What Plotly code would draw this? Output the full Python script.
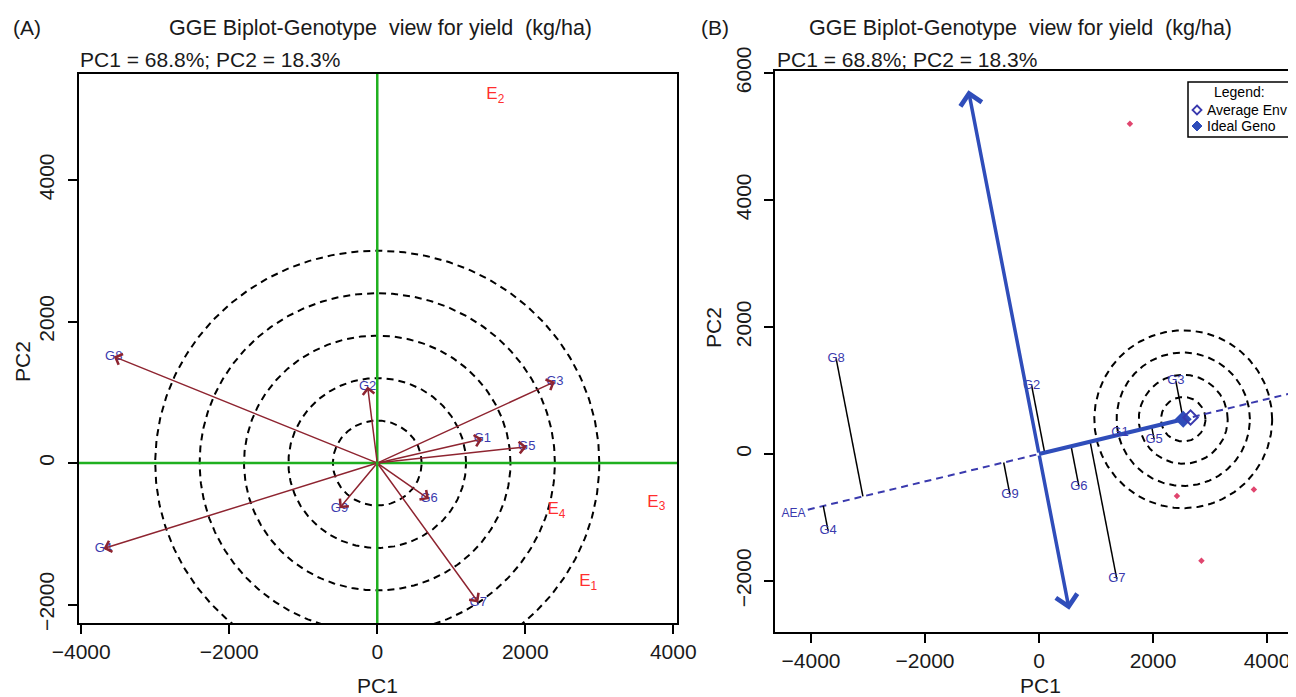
import numpy as np
import plotly.graph_objects as go

# ---------------- data ----------------
genotypes = ["G1", "G2", "G3", "G4", "G5", "G6", "G7", "G8", "G9"]
g_pc1 = [1420, -130, 2400, -3700, 2020, 700, 1365, -3560, -510]
g_pc2 = [340, 1080, 1150, -1210, 230, -510, -1970, 1505, -640]

environments = ["E1", "E2", "E3", "E4"]
e_pc1 = [2850, 1595, 3770, 2420]
e_pc2 = [-1680, 5200, -560, -660]

x_ticks = [-4000, -2000, 0, 2000, 4000]
y_ticks_a = [-2000, 0, 2000, 4000]
y_ticks_b = [-2000, 0, 2000, 4000, 6000]

atc_extent = [5860, -2510]   # ATC ordinate arrow lengths (up, down)
title_txt = "GGE Biplot-Genotype\u00a0 view for yield\u00a0 (kg/ha)"
pc_txt = "PC1 = 68.8%; PC2 = 18.3%"

# ---------------- style ----------------
W, H = 1296, 697
OFF = 8  # page body margin offset
FONT = "Liberation Sans, Arial, Helvetica, sans-serif"
GREEN = "#1FB01F"
MAROON = "#8E2430"
GBLUE = "#3A3AAE"
ABLUE = "#2F4DBA"
RED = "#FF2E2E"
PINK = "#E0456E"


def px(x):
    return (x - OFF) / W


def py(y):
    return 1 - (y - OFF) / H


xr_a = [-4030, 4050]
yr_a = [-2261, 5498]
xr_b = [-4632, 4509]
yr_b = [-2803, 6031]
dom_xa = [px(79), px(677)]
dom_ya = [py(623), py(74)]
dom_xb = [px(775), px(1296)]
dom_yb = [py(632), py(71)]

fig = go.Figure()

# ================= Panel A =================
theta = np.linspace(0, 2 * np.pi, 361)
ring_step_a = 600
for k in range(1, 6):
    r = ring_step_a * k
    fig.add_trace(go.Scatter(x=r * np.cos(theta), y=r * np.sin(theta), mode="lines",
                             line=dict(color="black", width=2, dash="7px,5px"),
                             hoverinfo="skip", showlegend=False, xaxis="x", yaxis="y"))
fig.add_trace(go.Scatter(x=xr_a, y=[0, 0], mode="lines", line=dict(color=GREEN, width=2.5),
                         hoverinfo="skip", showlegend=False, xaxis="x", yaxis="y"))
fig.add_trace(go.Scatter(x=[0, 0], y=yr_a, mode="lines", line=dict(color=GREEN, width=2.5),
                         hoverinfo="skip", showlegend=False, xaxis="x", yaxis="y"))

annotations = []
for gx, gy in zip(g_pc1, g_pc2):
    annotations.append(dict(x=gx, y=gy, ax=0, ay=0, xref="x", yref="y", axref="x", ayref="y",
                            text="", showarrow=True, arrowhead=4, arrowsize=1.5, arrowwidth=1.5,
                            arrowcolor=MAROON, standoff=0))

fig.add_trace(go.Scatter(x=g_pc1, y=g_pc2, mode="text", text=genotypes,
                         textfont=dict(family=FONT, size=13, color=GBLUE),
                         hoverinfo="skip", showlegend=False, xaxis="x", yaxis="y"))
fig.add_trace(go.Scatter(x=e_pc1, y=e_pc2, mode="text",
                         text=["E<sub>%s</sub>" % e[1:] for e in environments],
                         textfont=dict(family=FONT, size=17, color=RED),
                         hoverinfo="skip", showlegend=False, xaxis="x", yaxis="y"))

# ================= Panel B =================
g1 = np.array(g_pc1, float)
g2 = np.array(g_pc2, float)
avg = np.array([np.mean(e_pc1), np.mean(e_pc2)])
u = avg / np.linalg.norm(avg)
perp = np.array([-u[1], u[0]])
proj = g1 * u[0] + g2 * u[1]
ideal = proj.max() * u

px_x = (dom_xb[1] - dom_xb[0]) * W / (xr_b[1] - xr_b[0])
px_y = (dom_yb[1] - dom_yb[0]) * H / (yr_b[1] - yr_b[0])
ring_step_b = 390
for k in range(1, 5):
    r = ring_step_b * k
    fig.add_trace(go.Scatter(x=ideal[0] + r * np.cos(theta),
                             y=ideal[1] + r * (px_x / px_y) * np.sin(theta), mode="lines",
                             line=dict(color="black", width=2, dash="7px,5px"),
                             hoverinfo="skip", showlegend=False, xaxis="x2", yaxis="y2"))

t = np.array([-4150, 5200])
fig.add_trace(go.Scatter(x=t * u[0], y=t * u[1], mode="lines",
                         line=dict(color=GBLUE, width=2, dash="7px,5px"),
                         hoverinfo="skip", showlegend=False, xaxis="x2", yaxis="y2"))
fig.add_trace(go.Scatter(x=[t[0] * u[0] - 40], y=[t[0] * u[1] - 60], mode="text", text=["AEA"],
                         textposition="middle left",
                         textfont=dict(family=FONT, size=12, color=GBLUE),
                         hoverinfo="skip", showlegend=False, xaxis="x2", yaxis="y2"))

for gx, gy, p in zip(g1, g2, proj):
    fig.add_trace(go.Scatter(x=[gx, p * u[0]], y=[gy, p * u[1]], mode="lines",
                             line=dict(color="black", width=1.5),
                             hoverinfo="skip", showlegend=False, xaxis="x2", yaxis="y2"))

fig.add_trace(go.Scatter(x=[0, ideal[0]], y=[0, ideal[1]], mode="lines",
                         line=dict(color=ABLUE, width=4),
                         hoverinfo="skip", showlegend=False, xaxis="x2", yaxis="y2"))
for L in atc_extent:
    annotations.append(dict(x=L * perp[0], y=L * perp[1], ax=0, ay=0, xref="x2", yref="y2",
                            axref="x2", ayref="y2", text="", showarrow=True, arrowhead=4,
                            arrowsize=1.2, arrowwidth=3.5, arrowcolor=ABLUE, standoff=0))

fig.add_trace(go.Scatter(x=e_pc1, y=e_pc2, mode="markers",
                         marker=dict(symbol="diamond", size=5, color=PINK),
                         hoverinfo="skip", showlegend=False, xaxis="x2", yaxis="y2"))
fig.add_trace(go.Scatter(x=[ideal[0]], y=[ideal[1]], mode="markers",
                         marker=dict(symbol="diamond", size=13, color=ABLUE),
                         hoverinfo="skip", showlegend=False, xaxis="x2", yaxis="y2"))
fig.add_trace(go.Scatter(x=[avg[0]], y=[avg[1]], mode="markers",
                         marker=dict(symbol="diamond-open", size=11, color=GBLUE, line=dict(width=2)),
                         hoverinfo="skip", showlegend=False, xaxis="x2", yaxis="y2"))
fig.add_trace(go.Scatter(x=g_pc1, y=g_pc2, mode="text", text=genotypes,
                         textfont=dict(family=FONT, size=13, color=GBLUE),
                         hoverinfo="skip", showlegend=False, xaxis="x2", yaxis="y2"))


# legend box (panel B), paper-referenced
def diamond_path(cx, cy, r):
    return "M {0},{1} L {2},{3} L {0},{4} L {5},{3} Z".format(
        px(cx), py(cy - r), px(cx + r), py(cy), py(cy + r), px(cx - r))


shapes = [dict(type="rect", xref="paper", yref="paper", x0=px(1188), x1=px(1310),
               y0=py(137), y1=py(82), line=dict(color="black", width=1.5)),
          dict(type="path", xref="paper", yref="paper", path=diamond_path(1197, 110, 4.5),
               line=dict(color=GBLUE, width=1.8), fillcolor="white"),
          dict(type="path", xref="paper", yref="paper", path=diamond_path(1197, 126, 5),
               line=dict(color=ABLUE, width=1), fillcolor=ABLUE)]
leg = [("Legend:", 92, 1212), ("Average Env", 110, 1205), ("Ideal Geno", 126, 1205)]
for txt, yy, xx in leg:
    annotations.append(dict(x=px(xx), y=py(yy), xref="paper", yref="paper", text=txt,
                            showarrow=False, xanchor="left", yanchor="middle",
                            font=dict(family=FONT, size=14, color="black")))


def ann(x, y, text, size=21, angle=0, xanchor="center"):
    annotations.append(dict(x=px(x), y=py(y), xref="paper", yref="paper", text=text,
                            showarrow=False, xanchor=xanchor, yanchor="middle", textangle=angle,
                            font=dict(family=FONT, size=size, color="#1a1a1a")))


ann(27, 28, "(A)")
ann(380, 28, title_txt, size=21.5)
ann(78, 60, pc_txt, xanchor="left")
ann(377, 685, "PC1")
ann(22, 362, "PC2", angle=-90)
ann(715, 28, "(B)")
ann(1020, 28, title_txt, size=21.5)
ann(775, 60, pc_txt, xanchor="left")
ann(1040, 685, "PC1")
ann(713, 328, "PC2", angle=-90)

axis_common = dict(showgrid=False, zeroline=False, showline=True, linecolor="black", linewidth=2,
                   ticks="outside", ticklen=9, tickwidth=1.5, tickcolor="black", automargin=False,
                   tickfont=dict(family=FONT, size=21, color="#1a1a1a"))

fig.update_layout(
    width=W, height=H, margin=dict(l=0, r=0, t=0, b=0, autoexpand=False),
    paper_bgcolor="white", plot_bgcolor="white", showlegend=False,
    xaxis=dict(domain=dom_xa, range=xr_a, tickvals=x_ticks, mirror=True, anchor="y", **axis_common),
    yaxis=dict(domain=dom_ya, range=yr_a, tickvals=y_ticks_a, mirror=True, anchor="x",
               tickangle=-90, ticklabelstandoff=6, **axis_common),
    xaxis2=dict(domain=dom_xb, range=xr_b, tickvals=x_ticks, mirror=True, anchor="y2", **axis_common),
    yaxis2=dict(domain=dom_yb, range=yr_b, tickvals=y_ticks_b, mirror=False, anchor="x2",
                tickangle=-90, ticklabelstandoff=5, **axis_common),
    annotations=annotations, shapes=shapes,
)

fig.write_html("out.html")
